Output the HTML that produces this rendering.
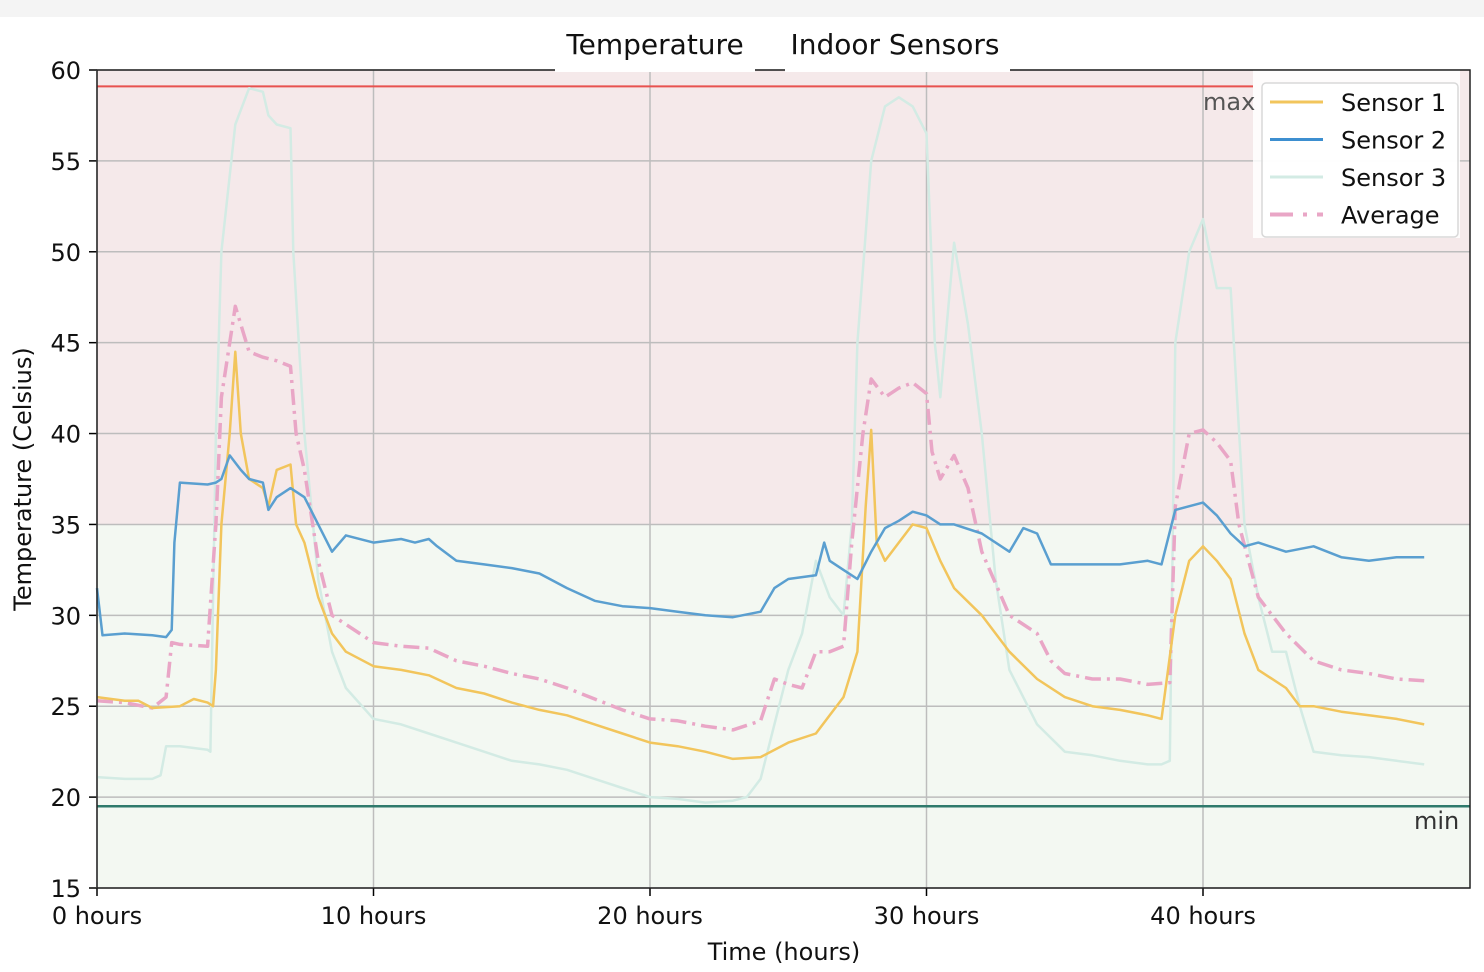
<!DOCTYPE html>
<html><head><meta charset="utf-8">
<style>
html,body{margin:0;padding:0;background:#fff;}
svg{display:block;font-family:"DejaVu Sans","Liberation Sans",sans-serif;}
</style></head>
<body>
<svg id="chart" width="1484" height="972" viewBox="0 0 1484 972">
<rect x="0" y="0" width="1484" height="17" fill="#f4f4f4"/>
<g id="plot"></g>
</svg>
<script>
const t1=[0,1,1.5,2,3,3.5,4,4.2,4.3,4.5,4.8,5,5.2,5.5,6,6.2,6.5,7,7.2,7.5,8,8.5,9,10,11,12,13,14,15,16,17,18,19,20,21,22,23,24,25,26,26.5,27,27.5,27.8,28,28.2,28.5,29,29.5,30,30.5,31,32,33,34,35,36,37,38,38.5,39,39.5,40,40.5,41,41.5,42,43,43.5,44,45,46,47,48];
const sensor1=[25.5,25.3,25.3,24.9,25.0,25.4,25.2,25,27,35,40,44.5,40,37.5,37,36,38,38.3,35,34,31,29,28,27.2,27,26.7,26,25.7,25.2,24.8,24.5,24,23.5,23,22.8,22.5,22.1,22.2,23,23.5,24.5,25.5,28,36,40.2,34,33,34,35,34.8,33,31.5,30,28,26.5,25.5,25,24.8,24.5,24.3,30,33,33.8,33,32,29,27,26,25,25,24.7,24.5,24.3,24.0];
const t2=[0,0.2,1,2,2.5,2.7,2.8,3,4,4.3,4.5,4.8,5.2,5.5,6,6.2,6.5,7,7.5,8,8.5,9,10,11,11.5,12,12.3,13,14,15,16,17,18,19,20,21,22,23,24,24.5,25,26,26.3,26.5,27,27.5,28,28.5,29,29.5,30,30.5,31,32,33,33.5,34,34.5,35,36,37,38,38.5,39,40,40.5,41,41.5,42,43,44,45,46,47,48];
const sensor2=[31.5,28.9,29,28.9,28.8,29.2,34,37.3,37.2,37.3,37.5,38.8,38.0,37.5,37.3,35.8,36.5,37,36.5,35,33.5,34.4,34.0,34.2,34.0,34.2,33.8,33,32.8,32.6,32.3,31.5,30.8,30.5,30.4,30.2,30,29.9,30.2,31.5,32,32.2,34,33,32.5,32,33.5,34.8,35.2,35.7,35.5,35,35,34.5,33.5,34.8,34.5,32.8,32.8,32.8,32.8,33,32.8,35.8,36.2,35.5,34.5,33.8,34,33.5,33.8,33.2,33.0,33.2,33.2];
const t3=[0,1,2,2.3,2.5,3,4,4.1,4.3,4.5,5,5.5,6,6.2,6.5,7,7.1,7.3,7.5,8,8.5,9,10,11,12,13,14,15,16,17,18,19,20,21,22,23,23.5,24,24.5,25,25.5,26,26.5,27,27.3,27.5,28,28.5,29,29.5,30,30.3,30.5,31,31.5,32,32.5,33,34,35,36,37,38,38.5,38.8,39,39.5,40,40.5,41,41.5,42,42.5,43,43.5,44,45,46,47,48];
const sensor3=[21.1,21,21,21.2,22.8,22.8,22.6,22.5,40,50,57,59,58.8,57.5,57,56.8,50,45,40,32,28,26,24.3,24,23.5,23,22.5,22,21.8,21.5,21,20.5,20,19.9,19.7,19.8,20,21,24,27,29,33,31,30,35,45,55,58,58.5,58,56.5,45,42,50.5,46,40,32,27,24,22.5,22.3,22,21.8,21.8,22,45,50,51.8,48,48,35,31,28,28,25,22.5,22.3,22.2,22,21.8];
const ta=[0,1,2,2.5,2.7,3,4,4.3,4.5,5,5.5,6,6.5,7,7.2,7.5,8,8.5,9,10,11,12,13,14,15,16,17,18,19,20,21,22,23,24,24.5,25,25.5,26,26.5,27,27.3,27.7,28,28.5,29,29.5,30,30.2,30.5,31,31.5,32,33,34,34.5,35,36,37,38,38.8,39,39.5,40,40.5,41,41.3,42,43,44,45,46,47,48];
const average=[25.3,25.2,24.9,25.5,28.5,28.4,28.3,35,42,47,44.5,44.2,44,43.7,40,38,33,30,29.5,28.5,28.3,28.2,27.5,27.2,26.8,26.5,26,25.4,24.8,24.3,24.2,23.9,23.7,24.2,26.5,26.2,26,28,28,28.3,34,40,43,42,42.5,42.8,42.2,39,37.5,38.8,37,33.5,30,29,27.5,26.8,26.5,26.5,26.2,26.3,36,40,40.2,39.5,38.5,35,31,29,27.5,27,26.8,26.5,26.4];
const yTicks=[15,20,25,30,35,40,45,50,55,60];
const xTicks=[0,10,20,30,40];
const xTickLabels=["0 hours","10 hours","20 hours","30 hours","40 hours"];
const maxLine=59.1, minLine=19.5, bandSplit=35;

const NS="http://www.w3.org/2000/svg";
const X0=97,X1=1470,Y0=888,Y1=70;
const xs=t=>X0+t*27.65;
const ys=v=>Y0-(v-15)*(Y0-Y1)/45;
const plot=document.getElementById('plot');
function mk(tag,attrs,parent){const e=document.createElementNS(NS,tag);for(const k in attrs)e.setAttribute(k,attrs[k]);(parent||plot).appendChild(e);return e;}

let e;
e=mk('rect',{x:X0,y:Y1,width:X1-X0,height:ys(bandSplit)-Y1,fill:'#f5e9ea'});


e=mk('rect',{x:X0,y:ys(bandSplit),width:X1-X0,height:Y0-ys(bandSplit),fill:'#f3f8f2'});


yTicks.forEach(v=>{
 e=mk('line',{x1:X0,x2:X1,y1:ys(v),y2:ys(v),stroke:'#bdbdbd','stroke-width':1.5});
 
 
 e=mk('line',{x1:X0-8,x2:X0,y1:ys(v),y2:ys(v),stroke:'#000','stroke-width':1.5});
 
 
 e=mk('text',{x:X0-16,y:ys(v)+9,'text-anchor':'end','font-size':24,fill:'#111'});
 e.textContent=v;
 
 
});
xTicks.forEach((v,i)=>{
 e=mk('line',{x1:xs(v),x2:xs(v),y1:Y1,y2:Y0,stroke:'#bdbdbd','stroke-width':1.5});
 
 
 e=mk('line',{x1:xs(v),x2:xs(v),y1:Y0,y2:Y0+8,stroke:'#000','stroke-width':1.5});
 
 
 e=mk('text',{x:xs(v),y:Y0+36,'text-anchor':'middle','font-size':24,fill:'#111'});
 e.textContent=xTickLabels[i];
 
 
});
e=mk('line',{x1:X0,x2:1253,y1:ys(maxLine),y2:ys(maxLine),stroke:'#e8524f','stroke-width':2});


e=mk('line',{x1:X0,x2:X1,y1:ys(minLine),y2:ys(minLine),stroke:'#2f7a6c','stroke-width':2.5});



function series(t,v,color,w,dash,name){
 const d=t.map((tt,i)=>(i?'L':'M')+xs(tt).toFixed(1)+' '+ys(v[i]).toFixed(1)).join(' ');
 const a={d:d,fill:'none',stroke:color,'stroke-width':w,'stroke-linejoin':'round'};
 if(dash)a['stroke-dasharray']=dash;
 const p=mk('path',a);
 
 
}
series(t3,sensor3,'#d3ebe4',2.5,null,'sensor-3-line');
series(ta,average,'#e9a6c6',3.5,'16,6,3,6','average-line');
series(t1,sensor1,'#f2c55c',2.5,null,'sensor-1-line');
series(t2,sensor2,'#5a9fd0',2.5,null,'sensor-2-line');

e=mk('rect',{x:1253,y:Y1,width:207,height:168,fill:'#fff','fill-opacity':0.85});


e=mk('rect',{x:1262,y:83,width:196,height:154,rx:4,fill:'#fff','fill-opacity':0.8,stroke:'#d8d8d8','stroke-width':1.5});


const legNames=['Sensor 1','Sensor 2','Sensor 3','Average'];
const legColors=['#f2c55c','#3d8fd0','#d3ebe4','#e9a6c6'];
legNames.forEach((n,i)=>{
 const y=102+i*37.5;
 e=mk('line',{x1:1270,x2:1323,y1:y,y2:y,stroke:legColors[i],'stroke-width':i==3?4:3,'stroke-dasharray':i==3?'23,10,4,10':'none'});
 
 
 e=mk('text',{x:1341,y:y+9,'font-size':24,fill:'#111'});
 e.textContent=n;
 
 
});

e=mk('rect',{x:X0,y:Y1,width:X1-X0,height:Y0-Y1,fill:'none',stroke:'#222','stroke-width':1.5});


e=mk('rect',{x:555,y:60,width:200,height:12,fill:'#fff'});


e=mk('rect',{x:785,y:60,width:225,height:12,fill:'#fff'});


e=mk('text',{x:655,y:54,'text-anchor':'middle','font-size':28,fill:'#111'});
e.textContent='Temperature';


e=mk('text',{x:895,y:54,'text-anchor':'middle','font-size':28,fill:'#111'});
e.textContent='Indoor Sensors';


e=mk('text',{x:1203,y:110,'font-size':24,fill:'#555'});
e.textContent='max';


e=mk('text',{x:1414,y:829,'font-size':24,fill:'#333'});
e.textContent='min';


e=mk('text',{x:784,y:960,'text-anchor':'middle','font-size':24,fill:'#111'});
e.textContent='Time (hours)';


e=mk('text',{x:0,y:0,'text-anchor':'middle','font-size':24,fill:'#111',transform:'translate(31,479) rotate(-90)'});
e.textContent='Temperature (Celsius)';


</script>
</body></html>
